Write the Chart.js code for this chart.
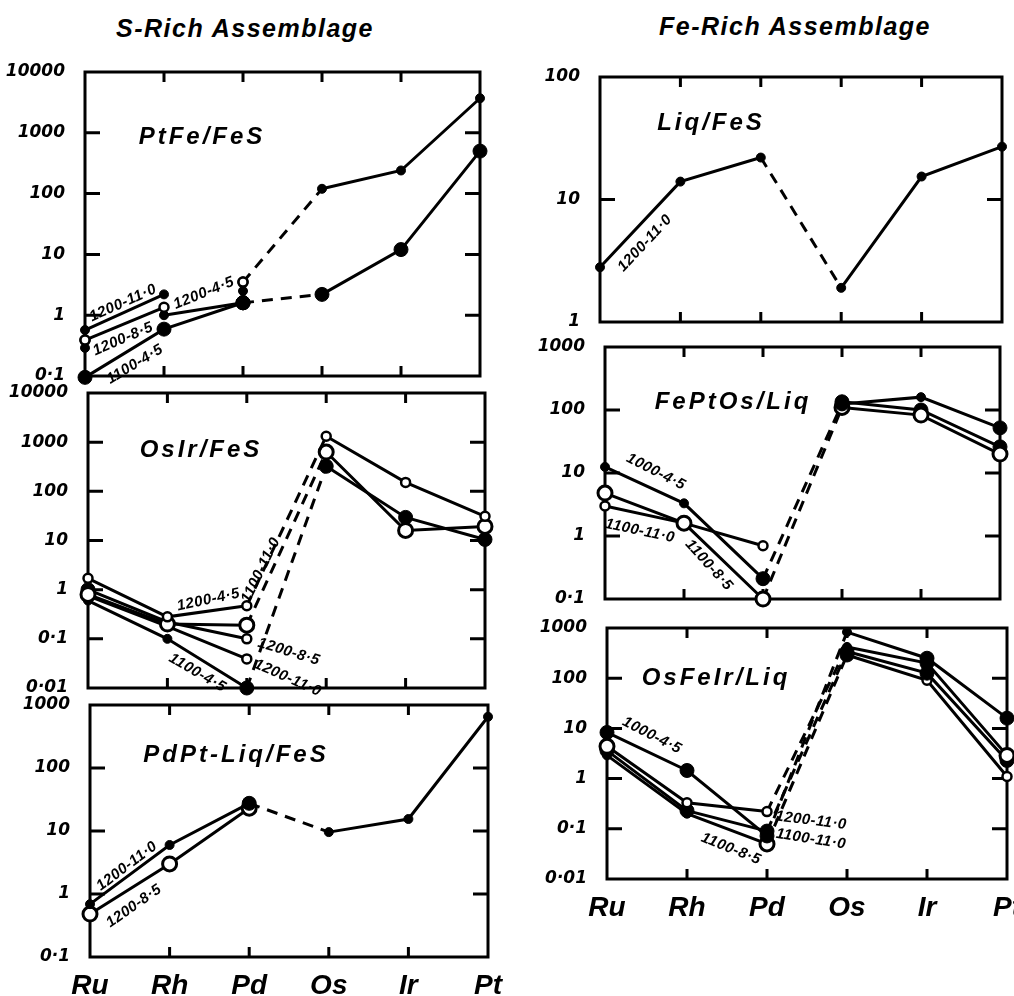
<!DOCTYPE html>
<html>
<head>
<meta charset="utf-8">
<script src="https://cdn.jsdelivr.net/npm/chart.js@4.4.0/dist/chart.umd.min.js"></script>
<style>
  body { margin: 0; background: #fff; width: 1014px; height: 996px; position: relative; overflow: hidden; }
  .head { position: absolute; width: 400px; text-align: center; font: italic bold 25px "Liberation Sans", Arial, sans-serif; letter-spacing: 1.5px; color: #000; }
  canvas { position: absolute; }
</style>
</head>
<body>
<div class="head" style="left:45px; top:14px;">S-Rich Assemblage</div>
<div class="head" style="left:595px; top:12px;">Fe-Rich Assemblage</div>

<script>
const categories = ['Ru', 'Rh', 'Pd', 'Os', 'Ir', 'Pt'];

// decades used on the y axes and how they are printed
const decades = [0.01, 0.1, 1, 10, 100, 1000, 10000];
const decadeLabels = ['0·01', '0·1', '1', '10', '100', '1000', '10000'];

// --- S-rich: PtFe/FeS
const ptfe_1200_110 = [0.57, 2.2, null, null, null, null];
const ptfe_1200_85 = [0.39, 1.35, null, null, null, null];
const ptfe_1200_45 = [null, 1.0, 1.6, null, null, null];
const ptfe_upper = [null, null, 3.5, 120, 240, 3700];
const ptfe_1100_45 = [0.095, 0.59, 1.6, 2.2, 12, 500];
const ptfe_ruPair = [0.29, 0.39];
const ptfe_pdStack = [1.6, 2.5, 3.5];

// --- S-rich: OsIr/FeS
const osir_1200_45 = [1.7, 0.28, 0.47, 1320, 152, 31];
const osir_1100_110 = [0.8, 0.2, 0.19, 630, 16, 19.3];
const osir_1200_85 = [1.0, 0.22, 0.1, null, null, null];
const osir_1200_110 = [0.75, 0.18, 0.039, null, null, null];
const osir_1100_45 = [0.6, 0.1, 0.01, 323, 29.5, 10.5];

// --- S-rich: PdPt-Liq/FeS
const pdpt_1200_110 = [0.69, 6.0, 27.5, 9.6, 15.5, 650];
const pdpt_1200_85 = [0.48, 3.0, 23, null, null, null];

// --- Fe-rich: Liq/FeS
const liq_1200_110 = [2.8, 14, 22, 1.9, 15.4, 27];

// --- Fe-rich: FePtOs/Liq
const feptos_1000_45 = [12.5, 3.3, 0.21, 125, 160, 52];
const feptos_1100_85 = [4.8, 1.6, 0.1, 110, 83, 20];
const feptos_1100_110 = [3.0, 1.6, 0.7, null, null, null];
const feptos_other = [null, null, null, 135, 100, 26];

// --- Fe-rich: OsFeIr/Liq
const osfeir_1000_45 = [8.3, 1.45, 0.072, 830, 250, 16];
const osfeir_1200_110 = [4.4, 0.33, 0.22, 420, 200, 2.9];
const osfeir_1100_110 = [3.6, 0.23, 0.09, 340, 126, 2.3];
const osfeir_1100_85 = [2.9, 0.2, 0.05, 290, 91, 1.1];

const MARK = {
  f: { r: 4.5, fill: '#000', w: 1 },
  F: { r: 7, fill: '#000', w: 1 },
  o: { r: 4.5, fill: '#fff', w: 2.5 },
  O: { r: 7, fill: '#fff', w: 3 }
};

function makeDs(pts, marks) {
  const m = pts.map((p, i) => MARK[marks[Math.min(i, marks.length - 1)]]);
  return {
    data: pts,
    borderColor: '#000',
    borderWidth: 3,
    pointRadius: m.map(s => s.r),
    pointHoverRadius: m.map(s => s.r),
    pointBackgroundColor: m.map(s => s.fill),
    pointBorderColor: '#000',
    pointBorderWidth: m.map(s => s.w),
    tension: 0,
    clip: false,
    segment: {
      // the jump from Pd to Os is drawn dashed
      borderDash: ctx => {
        const d = ctx.chart.data.datasets[ctx.datasetIndex].data;
        return d[ctx.p0DataIndex].x === 'Pd' && d[ctx.p1DataIndex].x === 'Os' ? [11, 8] : undefined;
      }
    }
  };
}
function series(values, marks) {
  const pts = [];
  values.forEach((v, i) => { if (v != null) pts.push({ x: categories[i], y: v }); });
  return makeDs(pts, marks);
}
function stack(cat, values, marks) {
  return makeDs(values.map(v => ({ x: cat, y: v })), marks);
}

const panels = [
  {
    area: [85, 72, 480, 376], min: 0.1, max: 10000, axis: false,
    name: 'PtFe/FeS', nameAt: [117, 65],
    datasets: [
      series(ptfe_1200_110, 'f'),
      series(ptfe_1200_85, 'o'),
      stack('Ru', ptfe_ruPair, 'fo'),
      series(ptfe_1200_45, 'fF'),
      stack('Pd', ptfe_pdStack, 'Ffo'),
      series(ptfe_upper, 'of'),
      series(ptfe_1100_45, 'F')
    ],
    labels: [
      { text: '1200-11·0', at: ['Ru', 0.57], dx: 38, dy: -27, rot: -24 },
      { text: '1200-8·5', at: ['Ru', 0.39], dx: 38, dy: -1, rot: -23 },
      { text: '1100-4·5', at: ['Ru', 0.095], dx: 50, dy: -13, rot: -31 },
      { text: '1200-4·5', at: ['Rh', 1.0], dx: 40, dy: -22, rot: -22 }
    ]
  },
  {
    area: [88, 393, 485, 688], min: 0.01, max: 10000, axis: false,
    name: 'OsIr/FeS', nameAt: [113, 57],
    datasets: [
      series(osir_1200_45, 'o'),
      series(osir_1100_110, 'O'),
      series(osir_1200_85, 'Fo'),
      series(osir_1200_110, 'o'),
      series(osir_1100_45, 'ffFFFF')
    ],
    labels: [
      { text: '1200-4·5', at: ['Rh', 0.28], dx: 41, dy: -17, rot: -12 },
      { text: '1200-8·5', at: ['Pd', 0.1], dx: 42, dy: 13, rot: 17 },
      { text: '1200-11·0', at: ['Pd', 0.039], dx: 41, dy: 19, rot: 24 },
      { text: '1100-4·5', at: ['Rh', 0.1], dx: 30, dy: 34, rot: 30 },
      { text: '1100-11·0', at: ['Pd', 0.19], dx: 14, dy: -55, rot: -64 }
    ]
  },
  {
    area: [90, 705, 488, 957], min: 0.1, max: 1000, axis: true,
    name: 'PdPt-Liq/FeS', nameAt: [146, 50],
    datasets: [
      series(pdpt_1200_110, 'ffFf'),
      series(pdpt_1200_85, 'O')
    ],
    labels: [
      { text: '1200-11·0', at: ['Ru', 0.69], dx: 37, dy: -38, rot: -37 },
      { text: '1200-8·5', at: ['Ru', 0.48], dx: 44, dy: -8, rot: -35 }
    ]
  },
  {
    area: [600, 77, 1002, 322], min: 1, max: 100, axis: false,
    name: 'Liq/FeS', nameAt: [111, 46],
    datasets: [series(liq_1200_110, 'f')],
    labels: [
      { text: '1200-11·0', at: ['Ru', 2.8], dx: 45, dy: -24, rot: -47 }
    ]
  },
  {
    area: [605, 347, 1000, 599], min: 0.1, max: 1000, axis: false,
    name: 'FePtOs/Liq', nameAt: [128, 55],
    datasets: [
      series(feptos_1000_45, 'ffFFfF'),
      series(feptos_1100_85, 'O'),
      series(feptos_1100_110, 'oFo'),
      series(feptos_other, 'F')
    ],
    labels: [
      { text: '1000-4·5', at: ['Ru', 12.5], dx: 51, dy: 5, rot: 27 },
      { text: '1100-11·0', at: ['Ru', 3.0], dx: 35, dy: 25, rot: 12 },
      { text: '1100-8·5', at: ['Rh', 1.6], dx: 25, dy: 42, rot: 48 }
    ]
  },
  {
    area: [607, 628, 1007, 879], min: 0.01, max: 1000, axis: true,
    name: 'OsFeIr/Liq', nameAt: [109, 50],
    datasets: [
      series(osfeir_1000_45, 'FFFfFF'),
      series(osfeir_1200_110, 'OoofFO'),
      series(osfeir_1100_110, 'FFFFFF'),
      series(osfeir_1100_85, 'ffOFoo')
    ],
    labels: [
      { text: '1000-4·5', at: ['Ru', 8.3], dx: 45, dy: 3, rot: 27 },
      { text: '1200-11·0', at: ['Pd', 0.22], dx: 44, dy: 9, rot: 7 },
      { text: '1100-11·0', at: ['Pd', 0.09], dx: 44, dy: 8, rot: 9 },
      { text: '1100-8·5', at: ['Pd', 0.05], dx: -36, dy: 5, rot: 22 }
    ]
  }
];

const framePlugin = {
  id: 'frame',
  beforeDatasetsDraw(chart) {
    const { ctx, chartArea: a, scales: { x, y } } = chart;
    ctx.save();
    ctx.strokeStyle = '#000';
    ctx.lineWidth = 3;
    ctx.strokeRect(a.left, a.top, a.width, a.height);
    ctx.beginPath();
    y.ticks.forEach(t => {
      const py = y.getPixelForValue(t.value);
      if (py <= a.top + 1 || py >= a.bottom - 1) return;
      ctx.moveTo(a.left, py); ctx.lineTo(a.left + 15, py);
      ctx.moveTo(a.right, py); ctx.lineTo(a.right - 15, py);
    });
    for (let i = 1; i < categories.length - 1; i++) {
      const px = x.getPixelForValue(i);
      ctx.moveTo(px, a.top); ctx.lineTo(px, a.top + 10);
      ctx.moveTo(px, a.bottom); ctx.lineTo(px, a.bottom - 10);
    }
    ctx.stroke();
    ctx.restore();
  }
};

const notesPlugin = {
  id: 'notes',
  afterDatasetsDraw(chart) {
    const p = panels[+chart.canvas.dataset.panel];
    const { ctx, chartArea: a, scales: { x, y } } = chart;
    ctx.save();
    ctx.fillStyle = '#000';
    ctx.textAlign = 'center';
    ctx.textBaseline = 'middle';
    ctx.font = 'italic bold 24px "Liberation Sans", Arial, sans-serif';
    ctx.letterSpacing = '3px';
    ctx.fillText(p.name, a.left + p.nameAt[0], a.top + p.nameAt[1]);
    ctx.font = 'italic bold 15px "Liberation Sans", Arial, sans-serif';
    ctx.letterSpacing = '0.5px';
    p.labels.forEach(l => {
      const px = x.getPixelForValue(categories.indexOf(l.at[0])) + l.dx;
      const py = y.getPixelForValue(l.at[1]) + l.dy;
      ctx.save();
      ctx.translate(px, py);
      ctx.rotate(l.rot * Math.PI / 180);
      ctx.fillText(l.text, 0, 0);
      ctx.restore();
    });
    ctx.restore();
  }
};

const YW = 85, PT = 14, PR = 26;

panels.forEach((p, idx) => {
  const [x0, y0, x1, y1] = p.area;
  const XB = p.axis ? 48 : 12;
  const cv = document.createElement('canvas');
  cv.dataset.panel = idx;
  cv.width = (x1 - x0) + YW + PR;
  cv.height = (y1 - y0) + PT + XB;
  cv.style.left = (x0 - YW) + 'px';
  cv.style.top = (y0 - PT) + 'px';
  document.body.appendChild(cv);

  new Chart(cv.getContext('2d'), {
    type: 'line',
    data: { labels: categories, datasets: p.datasets },
    options: {
      responsive: false,
      animation: false,
      devicePixelRatio: 1,
      layout: { padding: { top: PT, right: PR, left: 0, bottom: 0 } },
      plugins: { legend: { display: false }, tooltip: { enabled: false } },
      scales: {
        x: {
          type: 'category',
          offset: false,
          grid: { display: false },
          border: { display: false },
          afterFit: s => { s.height = XB; s.paddingLeft = 0; s.paddingRight = 0; },
          ticks: {
            display: p.axis,
            autoSkip: false,
            maxRotation: 0,
            padding: 4,
            color: '#000',
            font: { family: '"Liberation Sans", Arial, sans-serif', size: 28, style: 'italic', weight: 'bold' }
          }
        },
        y: {
          type: 'logarithmic',
          min: p.min,
          max: p.max,
          grid: { display: false },
          border: { display: false },
          afterBuildTicks: s => {
            s.ticks = decades.filter(v => v >= p.min && v <= p.max).map(v => ({ value: v }));
          },
          afterFit: s => { s.width = YW; s.paddingTop = 0; s.paddingBottom = 0; },
          ticks: {
            padding: 12,
            color: '#000',
            font: { family: '"DejaVu Sans", sans-serif', size: 17, style: 'italic', weight: 'bold' },
            callback: v => decadeLabels[decades.indexOf(v)]
          }
        }
      }
    },
    plugins: [framePlugin, notesPlugin]
  });
});
</script>
</body>
</html>
